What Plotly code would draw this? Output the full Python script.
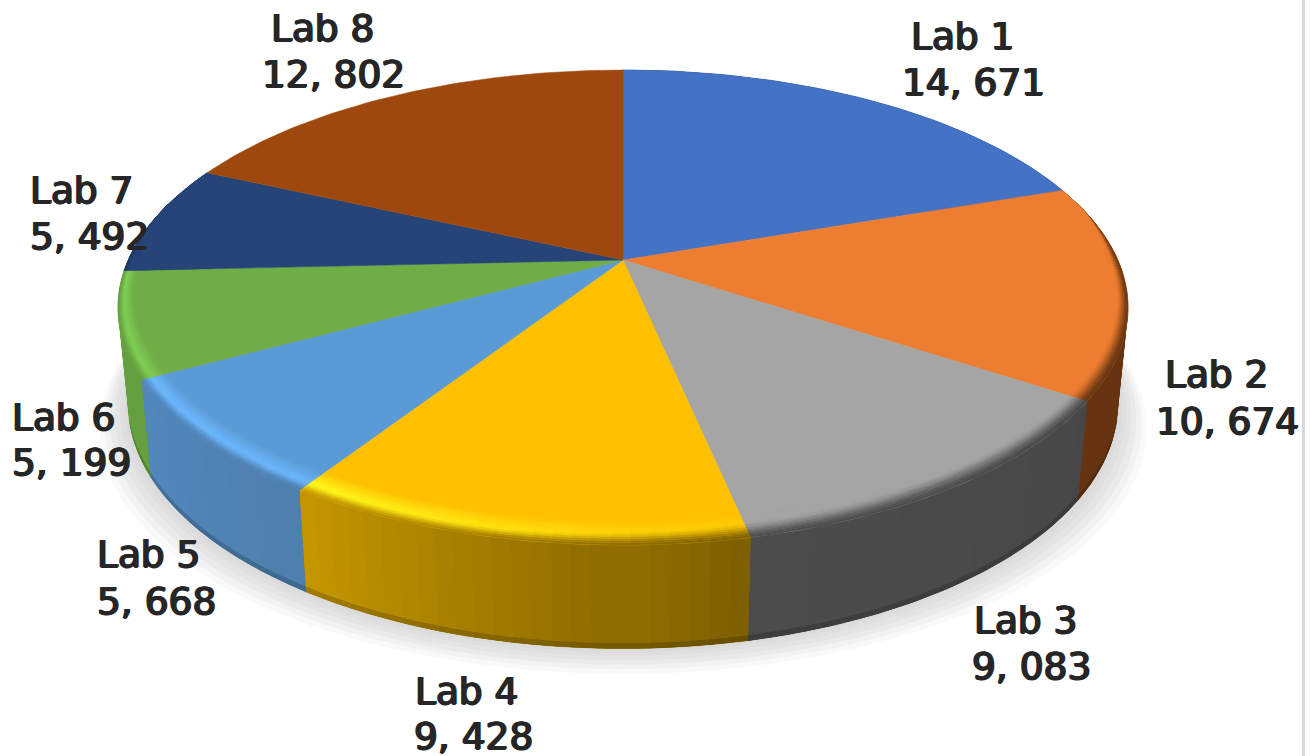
import numpy as np
import plotly.graph_objects as go

# ---- data ----
categories = ["Lab 1", "Lab 2", "Lab 3", "Lab 4", "Lab 5", "Lab 6", "Lab 7", "Lab 8"]
values = [14671, 10674, 9083, 9428, 5668, 5199, 5492, 12802]
colors = ["#4472C4", "#ED7D31", "#A5A5A5", "#FFC000", "#5B9BD5", "#70AD47", "#264478", "#9E480E"]

# ---- label placement (left edge, line-1 y, line-2 left edge, line-2 y) ----
label_pos = {
    "Lab 1": (911, 36, 902, 82),
    "Lab 2": (1165, 374, 1156, 421),
    "Lab 3": (974, 620, 972, 666),
    "Lab 4": (415, 691, 414, 736),
    "Lab 5": (97, 554, 97, 601),
    "Lab 6": (12, 417, 12, 462),
    "Lab 7": (30, 190, 30, 236),
    "Lab 8": (271, 28, 262, 74),
}

# ---- projection of the tilted disc onto the page ----
CX, CY, A, B, K = 623.0, 260.0, 494.8, 228.0, 0.20
BOT_DY, BOT_SX, BOT_SY = 95.0, 0.98, 1.03
WARP_IN = [0, 72.3, 169.7, 216.2, 244.2, 297, 360]
WARP_OUT = [0, 71.0, 168.0, 212.9, 241.7, 294.6, 360]


def warp(deg):
    return np.interp(deg, WARP_IN, WARP_OUT)


def uvw(deg):
    t = np.radians(warp(deg))
    u, v = np.sin(t), np.cos(t)
    return u, v, 1 + K * v


def top(deg):
    u, v, w = uvw(deg)
    return CX + A * u / w, CY - B * v / w


def bottom(deg, grow=0.0):
    u, v, w = uvw(deg)
    return CX + (BOT_SX * A + grow) * u / w, CY + BOT_DY + grow * 0.9 - BOT_SY * B * v / w


def bevel(deg, t):
    x, y = top(deg)
    u, v, w = uvw(deg)
    f = np.clip((0.25 - v) / 0.25, 0, 1)
    rho = (0.024 + 0.066 * np.maximum(-v, 0) ** 1.2) * f
    return x + (CX - x) * rho * t, y + (CY - y) * rho * t


def rgb(h):
    return np.array([int(h[i:i + 2], 16) for i in (1, 3, 5)], float)


def mix(a, b, f):
    c = rgb(a) * (1 - f) + rgb(b) * f
    return "#%02X%02X%02X" % tuple(int(round(x)) for x in c)


total = sum(values)
edges = np.concatenate([[0], np.cumsum(values)]) / total * 360

wall_left = ["#3A5D9E", "#663410", "#4C4C4C", "#C89A00", "#5288BE", "#669F40", "#1E3760", "#7C390B"]
wall_right = ["#3A5D9E", "#663410", "#474747", "#7A5C00", "#4E80AE", "#669F40", "#1E3760", "#7C390B"]
ridge_col = ["#4472C4", "#ED7D31", "#A5A5A5", "#FFFF1E", "#6DB9FF", "#80CE54", "#264478", "#9E480E"]

fig = go.Figure()


def poly(px, py, col, line=0.0):
    fig.add_trace(go.Scatter(x=list(px), y=list(py), mode="lines", fill="toself", fillcolor=col,
                             line=dict(color=col, width=line), hoverinfo="skip", showlegend=False))


# soft shadow under the disc
arc = np.linspace(60, 300, 241)
for grow, shade in zip([28, 23, 18, 13, 8, 4], ["#F9F9F9", "#F2F2F2", "#EAEAEA", "#E4E4E4", "#DFDFDF", "#DBDBDB"]):
    bx, by = bottom(arc, grow)
    poly(bx, by, shade)

# outer wall: paint slices, and the strips inside each, from the back to the front
mid_v = [np.cos(np.radians(warp((edges[i] + edges[i + 1]) / 2))) for i in range(len(values))]
STEP = 2.0
for i in np.argsort(mid_v)[::-1]:
    a0, a1 = edges[i], edges[i + 1]
    n = max(1, int(np.ceil((a1 - a0) / STEP)))
    ang = np.linspace(a0, a1, n + 1)
    seg_all = np.linspace(a0, a1, 60)
    if np.min(np.cos(np.radians(warp(seg_all)))) > 0.35:
        continue
    tx, ty = top(seg_all)
    bx, by = bottom(seg_all)
    poly(np.r_[tx, bx[::-1]], np.r_[ty, by[::-1]], mix(wall_left[i], wall_right[i], 0.5), 0.5)
    strip_v = np.cos(np.radians(warp((ang[:-1] + ang[1:]) / 2)))
    for j in np.argsort(strip_v)[::-1]:
        s0, s1 = ang[max(j - 1, 0)], ang[min(j + 2, n)]
        f = (j + 0.5) / n
        c = mix(wall_right[i], wall_left[i], f)
        seg = np.linspace(s0, s1, 4)
        tx, ty = top(seg)
        bx, by = bottom(seg)
        mx, my = tx + (bx - tx) * 0.95, ty + (by - ty) * 0.95
        poly(np.r_[tx, mx[::-1]], np.r_[ty, my[::-1]], c)
        poly(np.r_[mx, bx[::-1]], np.r_[my, by[::-1]], mix(c, "#000000", 0.18))

# top faces
for i, cat in enumerate(categories):
    ang = np.linspace(edges[i], edges[i + 1], max(8, int(edges[i + 1] - edges[i])))
    ax, ay = top(ang)
    fig.add_trace(go.Scatter(x=np.r_[CX, ax, CX], y=np.r_[CY, ay, CY], mode="lines", fill="toself",
                             fillcolor=colors[i], line=dict(color=colors[i], width=0.5),
                             name=cat, text=f"{cat}: {values[i]}", hoverinfo="text", showlegend=False))

# rounded rim between top face and wall
T = np.linspace(0, 1, 13)
strength_x = [150, 180, 215, 245, 300]
strength_y = [0.0, 0.25, 0.9, 1.0, 1.0]
groups = {}
for i, cat in enumerate(categories):
    a0, a1 = edges[i], edges[i + 1]
    n = max(1, int(np.ceil((a1 - a0) / STEP)))
    ang = np.linspace(a0, a1, n + 1)
    for j in range(n):
        s0, s1 = ang[j], ang[j + 1]
        if np.cos(np.radians(warp(s0))) > 0.25 and np.cos(np.radians(warp(s1))) > 0.25:
            continue
        f = (j + 0.5) / n
        wall = mix(wall_right[i], wall_left[i], f)
        s = float(np.interp((s0 + s1) / 2, strength_x, strength_y))
        peak = mix(colors[i], ridge_col[i], s)
        # with no highlight the edge is one long soft blend into the top colour
        p_at = 0.42 + 0.3 * (1 - min(s / 0.5, 1))
        seg = np.linspace(s0, s1, 3)
        for b in range(len(T) - 1):
            t0, t1 = T[b], T[b + 1]
            tm = (t0 + t1) / 2
            if tm < p_at:
                x = tm / p_at
                c = mix(wall, peak, x * x * (3 - 2 * x))
            else:
                c = mix(peak, colors[i], (tm - p_at) / (1 - p_at))
            x0, y0 = bevel(seg, t0)
            x1, y1 = bevel(seg, t1)
            groups.setdefault(c, []).append((np.r_[x0, x1[::-1]], np.r_[y0, y1[::-1]]))
for col, polys in groups.items():
    xs, ys = [], []
    for px, py in polys:
        xs += list(px) + [px[0], None]
        ys += list(py) + [py[0], None]
    poly(xs, ys, col, 0.4)

# labels
INK = "#262626"
font = dict(family="DejaVu Sans", size=37.5, color=INK,
            shadow=f"1px 0 0 {INK}, -1px 0 0 {INK}, 0 0.5px 0 {INK}, 0 -0.5px 0 {INK}")
for cat, val in zip(categories, values):
    x1, y1, x2, y2 = label_pos[cat]
    fig.add_annotation(x=x1, y=y1, text=cat, showarrow=False, xanchor="left", yanchor="middle",
                       font=font, xref="x", yref="y", borderpad=0, borderwidth=0)
    fig.add_annotation(x=x2, y=y2, text=f"{val // 1000}, {val % 1000:03d}", showarrow=False, xanchor="left",
                       yanchor="middle", font=font, xref="x", yref="y", borderpad=0, borderwidth=0)

# thin frame edge at the right of the picture
fig.add_trace(go.Scatter(x=[1303.5, 1303.5], y=[0, 756], mode="lines", line=dict(color="#D9D9D9", width=3),
                         hoverinfo="skip", showlegend=False))

fig.update_layout(
    width=1312, height=756, margin=dict(l=0, r=0, t=0, b=0),
    paper_bgcolor="white", plot_bgcolor="white", showlegend=False,
    xaxis=dict(range=[0, 1312], visible=False, fixedrange=True),
    yaxis=dict(range=[756, 0], visible=False, fixedrange=True),
)
fig.write_html("out.html", config={"displayModeBar": False},
               post_script="document.body.style.margin='0';document.body.style.overflow='hidden';")
